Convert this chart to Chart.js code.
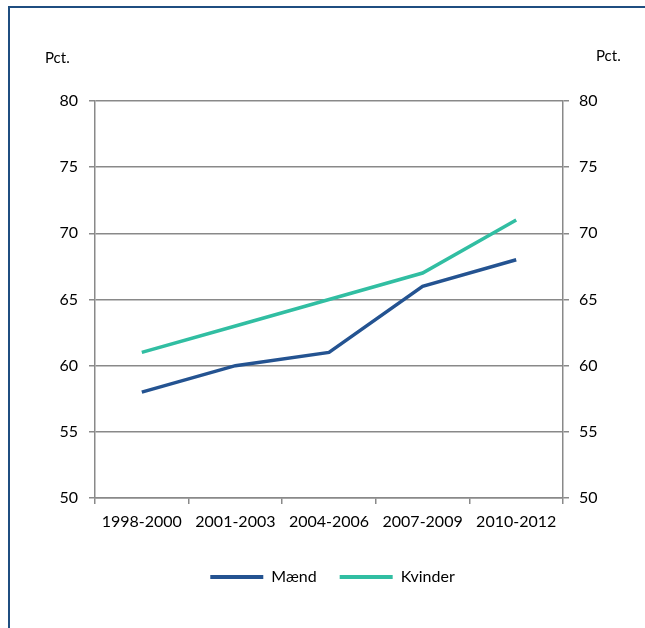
<!DOCTYPE html>
<html>
<head>
<meta charset="utf-8">
<script src="https://cdn.jsdelivr.net/npm/chart.js@4.4.1/dist/chart.umd.min.js"></script>
<style>
  html, body { margin: 0; padding: 0; background: #fff; }
  #wrap { position: relative; width: 645px; height: 628px; overflow: hidden; }
  #frame { position: absolute; left: 8px; top: 6px; width: 700px; height: 700px;
           border-left: 2px solid #1F4E80; border-top: 2px solid #1F4E80; box-sizing: border-box; }
  canvas { position: absolute; left: 0; top: 0; }
</style>
</head>
<body>
<div id="wrap">
  <div id="frame"></div>
  <canvas id="c" width="645" height="628"></canvas>
</div>
<script>
const categories = ["1998-2000", "2001-2003", "2004-2006", "2007-2009", "2010-2012"];
const maend = [58, 60, 61, 66, 68];
const kvinder = [61, 63, 65, 67, 71];
const yTicks = [50, 55, 60, 65, 70, 75, 80];
const seriesNames = ["Mænd", "Kvinder"];
const axisUnit = "Pct.";

const FONT = "Lato, 'Open Sans', sans-serif";
const GRID = "#898989";

const unitLabels = {
  id: 'unitLabels',
  afterDraw(chart) {
    const ctx = chart.ctx;
    const a = chart.chartArea;
    ctx.save();
    ctx.fillStyle = '#000';
    ctx.font = "15px " + FONT;
    ctx.textBaseline = 'middle';
    ctx.textAlign = 'left';
    ctx.fillText(axisUnit, a.left - 50, a.top - 43);
    ctx.fillText(axisUnit, a.right + 33, a.top - 45);
    ctx.restore();
  }
};

new Chart(document.getElementById('c'), {
  type: 'line',
  data: {
    labels: categories,
    datasets: [
      { label: seriesNames[0], data: maend, borderColor: '#245391', backgroundColor: '#245391',
        borderWidth: 3.5, pointRadius: 0, tension: 0, yAxisID: 'y' },
      { label: seriesNames[1], data: kvinder, borderColor: '#31BEA2', backgroundColor: '#31BEA2',
        borderWidth: 3.5, pointRadius: 0, tension: 0, yAxisID: 'y' }
    ]
  },
  options: {
    responsive: false,
    animation: false,
    devicePixelRatio: 1,
    layout: { padding: { top: 101, bottom: 33, left: 20, right: 0 } },
    plugins: {
      tooltip: { enabled: false },
      legend: {
        position: 'bottom',
        labels: {
          font: { family: FONT, size: 16 },
          color: '#000',
          boxWidth: 53,
          boxHeight: 4,
          padding: 23,
          generateLabels(chart) {
            const items = Chart.defaults.plugins.legend.labels.generateLabels(chart);
            items.forEach(it => { it.lineWidth = 0; it.fillStyle = it.strokeStyle; });
            return items;
          }
        }
      }
    },
    scales: {
      x: {
        offset: true,
        grid: { display: true, drawOnChartArea: false, drawTicks: true, tickLength: 6, color: GRID, lineWidth: 1.5, offset: true },
        border: { display: true, color: GRID, width: 1.5 },
        ticks: { font: { family: FONT, size: 16 }, color: '#000', padding: 8, maxRotation: 0, autoSkip: false },
        afterFit(s) { s.height = 48; }
      },
      y: {
        position: 'left',
        min: 50, max: 80,
        afterBuildTicks(s) { s.ticks = yTicks.map(v => ({ value: v })); },
        grid: { color: GRID, lineWidth: 1.5, tickLength: 6 },
        border: { display: true, color: GRID, width: 1.5 },
        ticks: { font: { family: FONT, size: 16 }, color: '#000', padding: 11 },
        afterFit(s) { s.width = 75; }
      },
      y2: {
        position: 'right',
        min: 50, max: 80,
        afterBuildTicks(s) { s.ticks = yTicks.map(v => ({ value: v })); },
        grid: { drawOnChartArea: false, color: GRID, lineWidth: 1.5, tickLength: 6 },
        border: { display: true, color: GRID, width: 1.5 },
        ticks: { font: { family: FONT, size: 16 }, color: '#000', padding: 10 },
        afterFit(s) { s.width = 82; }
      }
    }
  },
  plugins: [unitLabels]
});
</script>
</body>
</html>
